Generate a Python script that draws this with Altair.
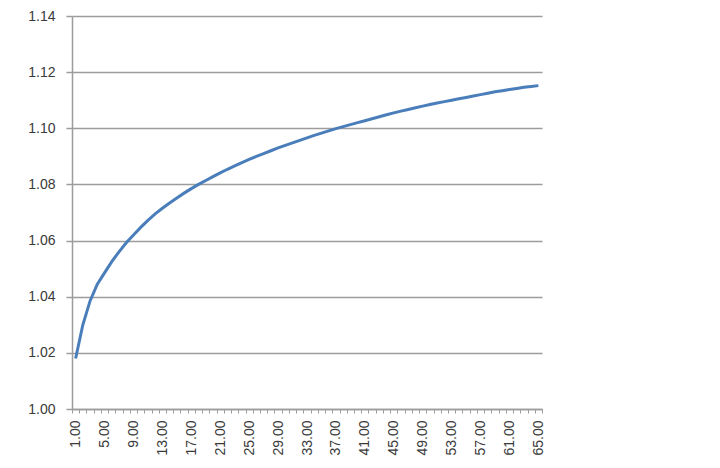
import altair as alt
import pandas as pd

categories = list(range(1, 66))
values = [
    1.0180, 1.0300, 1.0385, 1.0445, 1.0485, 1.0525, 1.0560, 1.0592, 1.0620, 1.0647,
    1.0672, 1.0695, 1.0715, 1.0734, 1.0752, 1.0769, 1.0785, 1.0800, 1.0814, 1.0828,
    1.0841, 1.0854, 1.0866, 1.0878, 1.0889, 1.0900, 1.0910, 1.0920, 1.0930, 1.0939,
    1.0948, 1.0957, 1.0966, 1.0975, 1.0983, 1.0991, 1.0999, 1.1006, 1.1013, 1.1020,
    1.1027, 1.1034, 1.1041, 1.1048, 1.1055, 1.1061, 1.1067, 1.1073, 1.1079, 1.1085,
    1.1090, 1.1095, 1.1100, 1.1105, 1.1110, 1.1115, 1.1120, 1.1125, 1.1130, 1.1134,
    1.1138, 1.1142, 1.1146, 1.1149, 1.1152,
]
label_values = [1, 5, 9, 13, 17, 21, 25, 29, 33, 37, 41, 45, 49, 53, 57, 61, 65]
tick_values = [c - 0.5 for c in categories] + [categories[-1] + 0.5]
y_ticks = [1.00, 1.02, 1.04, 1.06, 1.08, 1.10, 1.12, 1.14]

df = pd.DataFrame({"cat": categories, "val": values})

FONT = "Liberation Sans"
GRAY = "#9C9C9C"
TXT = "#3A3A3A"

xscale = alt.Scale(domain=[0.5, 65.5], nice=False, zero=False)
yscale = alt.Scale(domain=[1.00, 1.14], nice=False, zero=False)

y_axis = alt.Axis(values=y_ticks, format=".2f", grid=True, orient="left",
                  gridColor=GRAY, gridWidth=1.5, domainColor=GRAY,
                  domainWidth=1.5, tickColor=GRAY, tickWidth=1.5,
                  tickSize=6, labelPadding=11, labelFont=FONT,
                  labelFontSize=14, labelColor=TXT)

line = alt.Chart(df).mark_line(color="#4A7EBB", strokeWidth=3).encode(
    x=alt.X("cat:Q", scale=xscale, title=None,
            axis=alt.Axis(values=label_values, format=".2f", labelAngle=270,
                          orient="bottom", tickSize=0, labelPadding=11,
                          domain=True, domainColor=GRAY, domainWidth=1.5,
                          grid=False, labelFont=FONT, labelFontSize=14,
                          labelColor=TXT, labelAlign="right",
                          labelBaseline="middle", labelOverlap=False)),
    y=alt.Y("val:Q", scale=yscale, title=None, axis=y_axis),
)

ticks = alt.Chart(df).mark_line(opacity=0).encode(
    x=alt.X("cat:Q", scale=xscale, title=None,
            axis=alt.Axis(values=tick_values, labels=False, domain=False,
                          orient="bottom", tickSize=4, tickColor=GRAY,
                          tickWidth=1, grid=False)),
    y=alt.Y("val:Q", scale=yscale, title=None, axis=y_axis),
)

chart = alt.layer(ticks, line).resolve_axis(x="independent").properties(
    width=470, height=393,
    autosize=alt.AutoSizeParams(type="none"),
    padding={"left": 64, "top": 8, "right": 168, "bottom": 49},
).configure_view(stroke=None)

chart.save("out.html", embed_options={"renderer": "svg", "actions": False})
